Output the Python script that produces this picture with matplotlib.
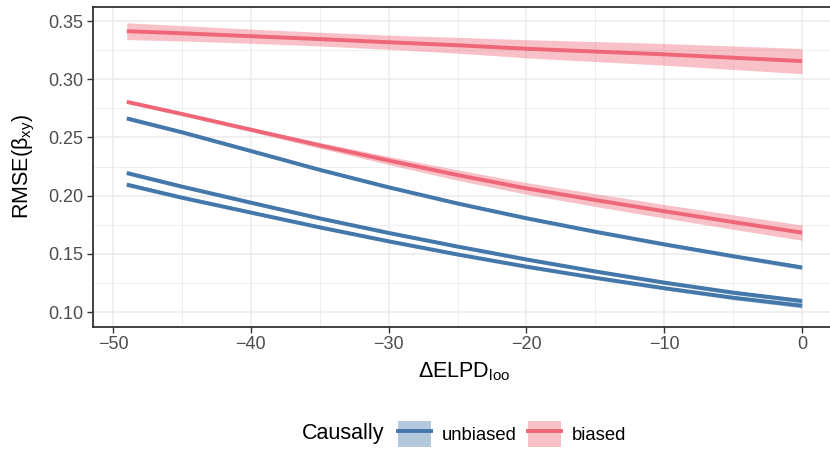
import matplotlib.pyplot as plt
from matplotlib.lines import Line2D
from matplotlib.patches import Patch
import numpy as np

plt.rcParams['font.family'] = ['Liberation Sans', 'DejaVu Sans']
plt.rcParams['mathtext.fontset'] = 'custom'
plt.rcParams['mathtext.rm'] = 'Liberation Sans'
plt.rcParams['mathtext.it'] = 'Liberation Sans'

# data
delta_elpd = [-49, -45, -40, -35, -30, -25, -20, -15, -10, -5, 0]

biased_hi = [0.3413, 0.3395, 0.3370, 0.3345, 0.3318, 0.3292, 0.3262, 0.3238, 0.3214, 0.3185, 0.3156]
biased_hi_se = [0.0072, 0.0066, 0.0061, 0.0059, 0.0061, 0.0068, 0.0078, 0.0086, 0.0093, 0.0101, 0.0108]

biased_lo = [0.2806, 0.2702, 0.2567, 0.2432, 0.2302, 0.2177, 0.2062, 0.1962, 0.1866, 0.1773, 0.1682]
biased_lo_se = [0.0015, 0.0015, 0.0018, 0.0025, 0.0035, 0.0045, 0.0050, 0.0055, 0.0058, 0.0062, 0.0066]

unbiased_hi = [0.2664, 0.2545, 0.2384, 0.2222, 0.2072, 0.1933, 0.1806, 0.1690, 0.1582, 0.1480, 0.1383]
unbiased_mid = [0.2195, 0.2078, 0.1940, 0.1805, 0.1680, 0.1563, 0.1452, 0.1349, 0.1253, 0.1167, 0.1095]
unbiased_low = [0.2095, 0.1983, 0.1855, 0.1728, 0.1608, 0.1495, 0.1390, 0.1294, 0.1205, 0.1123, 0.1054]
unbiased_se = [0.0018, 0.0016, 0.0015, 0.0015, 0.0015, 0.0015, 0.0015, 0.0015, 0.0016, 0.0017, 0.0019]

blue = '#4477AA'
red = '#EE6677'

series = [
    (unbiased_hi, unbiased_se, blue),
    (unbiased_mid, unbiased_se, blue),
    (unbiased_low, unbiased_se, blue),
    (biased_hi, biased_hi_se, red),
    (biased_lo, biased_lo_se, red),
]

fig = plt.figure(figsize=(8.3, 4.49), dpi=100)
ax = fig.add_axes([93 / 830, 1 - 326.7 / 449, (835.8 - 93) / 830, (326.7 - 6.5) / 449])

x = np.array(delta_elpd)
for y, se, c in series:
    y = np.array(y)
    se = np.array(se)
    ax.fill_between(x, y - se, y + se, color=c, alpha=0.4, lw=0, zorder=2)
    ax.plot(x, y, color=c, lw=2.8, zorder=3, solid_capstyle='butt',
            solid_joinstyle='round')

ax.set_xlim(-51.45, 2.45)
ax.set_ylim(0.0874, 0.3625)
ax.set_xticks([-50, -40, -30, -20, -10, 0])
ax.set_xticklabels(['\u221250', '\u221240', '\u221230', '\u221220', '\u221210', '0'])
ax.set_xticks([-45, -35, -25, -15, -5], minor=True)
ax.set_yticks([0.10, 0.15, 0.20, 0.25, 0.30, 0.35])
ax.set_yticklabels(['0.10', '0.15', '0.20', '0.25', '0.30', '0.35'])
ax.set_yticks([0.125, 0.175, 0.225, 0.275, 0.325], minor=True)

ax.grid(which='major', color='#EBEBEB', lw=1.1, zorder=0)
ax.grid(which='minor', color='#EBEBEB', lw=0.6, zorder=0)
ax.set_axisbelow(True)
ax.tick_params(which='major', length=4, width=1.0, color='#333333',
               labelcolor='#4D4D4D', labelsize=13, pad=3)
ax.tick_params(which='minor', length=0)
for s in ax.spines.values():
    s.set_color('#333333')
    s.set_linewidth(1.3)

ax.set_xlabel(r'$\Delta\mathrm{ELPD}_{\mathrm{loo}}$', fontsize=15.5, labelpad=5)
ax.set_ylabel(r'$\mathrm{RMSE}(\beta_{\mathrm{xy}})$', fontsize=15.5, labelpad=8)

fig.text(302 / 830, 1 - 434 / 449, 'Causally', fontsize=15.5, va='center', ha='left')
handles = [
    (Patch(facecolor=blue, alpha=0.4, lw=0), Line2D([], [], color=blue, lw=2.8)),
    (Patch(facecolor=red, alpha=0.4, lw=0), Line2D([], [], color=red, lw=2.8)),
]
fig.legend(handles, ['unbiased', 'biased'], loc='center left',
           bbox_to_anchor=(398 / 830, 1 - 434 / 449), ncol=2, frameon=False,
           fontsize=13.3, borderpad=0, borderaxespad=0, handlelength=1.78,
           handleheight=1.75, handletextpad=0.6, columnspacing=0.6)

fig.savefig('out.png', dpi=100)
